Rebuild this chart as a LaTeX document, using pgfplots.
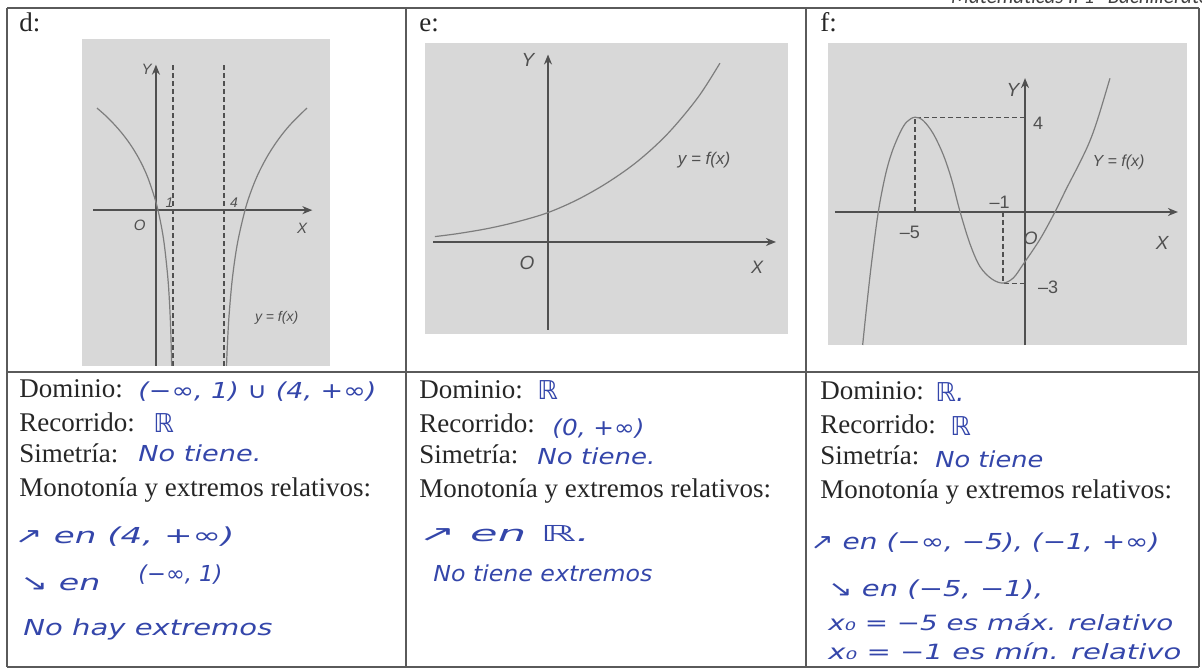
\documentclass[border=0pt]{standalone}
\usepackage{pgfplots}
\pgfplotsset{compat=1.18}
\usepackage{fontspec}
\usepackage{graphicx}
\usetikzlibrary{arrows.meta}
\setmainfont{Liberation Serif}
\newfontfamily\hand{DejaVu Sans}
\newfontfamily\lab{Liberation Sans}
\newfontfamily\head{Carlito}
\definecolor{ink}{RGB}{52,70,170}
\definecolor{paper}{RGB}{216,216,216}
\definecolor{curve}{RGB}{125,125,125}
\definecolor{axisc}{RGB}{80,80,80}
\definecolor{rule}{RGB}{90,90,90}
\newlength\pxu \setlength\pxu{0.5pt}
% handwritten answers: oblique sans in blue ink, stretched to a given width
\newcommand\hw[2]{\resizebox{#1\pxu}{\height}{\hand\itshape #2}}
\newcommand\body{\fontsize{13.5}{16}\selectfont}
\pgfplotsset{panel/.style={scale only axis, hide axis, clip=true, anchor=north west},
  fx/.style={draw=curve, line width=0.6pt, smooth, tension=0.55, no markers}}
\tikzset{txt/.style={anchor=base west, inner sep=0pt, font=\body, text=black!85},
  ans/.style={anchor=base west, inner sep=0pt, text=ink, font=\fontsize{11}{13}\selectfont},
  lbl/.style={inner sep=0pt, text=axisc},
  ax/.style={draw=axisc, line width=0.75pt, -{Stealth[length=5pt,width=4pt]}},
  asym/.style={draw=axisc, line width=0.6pt, dash pattern=on 2.5pt off 1.5pt}}

\begin{document}
\begin{tikzpicture}
\useasboundingbox (0,0) rectangle (601pt,-336pt);

\begin{scope}[x=0.5pt, y=-0.5pt]
% running header
\node[anchor=base east, inner sep=0pt, text=black!75, font=\head\itshape\fontsize{10.5}{12}\selectfont] at (1210,4) {Matemáticas II 1º Bachillerato};

% table rules
\draw[rule, line width=0.9pt] (7,8) -- (1199,8);
\draw[rule, line width=0.9pt] (7,372) -- (1199,372);
\draw[rule, line width=0.9pt] (7,667) -- (1199,667);
\foreach \c in {7,406,806,1199} \draw[rule, line width=0.9pt] (\c,8) -- (\c,667);

% panel backgrounds
\fill[paper] (82,39) rectangle (330,366);
\fill[paper] (425,43) rectangle (788,334);
\fill[paper] (828,43) rectangle (1187,345);

\node[txt] at (19,32) {d:};
\node[txt] at (419,32) {e:};
\node[txt] at (820,32) {f:};

% printed questions
\foreach \c/\d in {19/0,419/1,820/2} {
  \node[txt] at (\c,398+\d) {Dominio:};
  \node[txt] at (\c,432+\d) {Recorrido:};
  \node[txt] at (\c,463+\d) {Simetría:};
  \node[txt] at (\c,496+\d) {Monotonía y extremos relativos:};
}

% handwritten answers, d
\node[ans] at (138,399) {\hw{238}{(−∞, 1) ∪ (4, +∞)}};
\node[ans, font=\fontsize{13}{15}\selectfont] at (153,433) {\hand\itshape ℝ};
\node[ans] at (138,462) {\hw{123}{No tiene.}};
\node[ans] at (14,543) {\hw{220}{↗ en (4, +∞)}};
\node[ans] at (20,590) {\hw{80}{↘ en}};
\node[ans] at (138,581) {\hw{84}{(−∞, 1)}};
\node[ans] at (23,635) {\hw{249}{No hay extremos}};

% handwritten answers, e
\node[ans, font=\fontsize{13}{15}\selectfont] at (537,400) {\hand\itshape ℝ};
\node[ans] at (552,436) {\hw{92}{(0, +∞)}};
\node[ans] at (537,465) {\hw{118}{No tiene.}};
\node[ans] at (418,541) {\hw{172}{↗ en ℝ.}};
\node[ans] at (433,581) {\hw{219}{No tiene extremos}};

% handwritten answers, f
\node[ans, font=\fontsize{13}{15}\selectfont] at (935,402) {\hand\itshape ℝ.};
\node[ans, font=\fontsize{13}{15}\selectfont] at (950,436) {\hand\itshape ℝ};
\node[ans] at (935,467) {\hw{108}{No tiene}};
\node[ans] at (810,549) {\hw{349}{↗ en (−∞, −5), (−1, +∞)}};
\node[ans] at (828,596) {\hw{215}{↘ en (−5, −1),}};
\node[ans, font=\fontsize{10.5}{12}\selectfont] at (828,630) {\hw{345}{x₀ = −5 es máx. relativo}};
\node[ans, font=\fontsize{10.5}{12}\selectfont] at (828,659) {\hw{353}{x₀ = −1 es mín. relativo}};
\end{scope}

% ---------- d: two logarithmic branches, asymptotes x=1 and x=4
\begin{axis}[panel, at={(41pt,-19.5pt)}, width=124pt, height=163.5pt,
  xmin=-4.35, xmax=10.24, ymin=-9.16, ymax=10.06]
\addplot[asym] coordinates {(1,-9.16) (1,8.65)};
\addplot[asym] coordinates {(4,-9.16) (4,8.65)};
\draw[ax] (axis cs:0,-9.16) -- (axis cs:0,8.55);
\draw[ax] (axis cs:-3.7,0) -- (axis cs:9.2,0);
\addplot[fx] coordinates {(-3.47,6.0) (-3,5.59) (-2.5,5.09) (-2,4.52) (-1.5,3.85)
  (-1,3.03) (-0.5,1.97) (0,0.47) (0.3,-0.85) (0.5,-2.09) (0.7,-3.97) (0.8,-5.47)
  (0.87,-7.06) (0.925,-9.1) (0.94,-9.9)};
\addplot[fx] coordinates {(4.13,-9.9) (4.155,-9.1) (4.2,-7.99) (4.3,-6.21) (4.5,-3.98)
  (4.8,-1.92) (5.24,0) (5.6,1.12) (6,2.10) (6.5,3.07) (7,3.87) (7.5,4.55)
  (8,5.13) (8.88,6.0)};
\node[lbl, font=\lab\itshape\fontsize{7.5}{9}\selectfont] at (axis cs:-0.55,8.25) {Y};
\node[lbl, font=\lab\itshape\fontsize{7.5}{9}\selectfont] at (axis cs:-0.95,-0.9) {O};
\node[lbl, font=\lab\itshape\fontsize{7.5}{9}\selectfont] at (axis cs:8.6,-1.05) {X};
\node[lbl, font=\lab\itshape\fontsize{7}{9}\selectfont] at (axis cs:0.8,0.45) {1};
\node[lbl, font=\lab\itshape\fontsize{7}{9}\selectfont] at (axis cs:4.6,0.45) {4};
\node[lbl, font=\lab\itshape\fontsize{7}{9}\selectfont] at (axis cs:7.1,-6.35) {y = f(x)};
\end{axis}

% ---------- e: increasing exponential
\begin{axis}[panel, at={(212.5pt,-21.5pt)}, width=181.5pt, height=145.5pt,
  xmin=-4.1, xmax=8.0, ymin=-3.067, ymax=6.633]
\draw[ax] (axis cs:0,-2.93) -- (axis cs:0,6.25);
\draw[ax] (axis cs:-3.83,0) -- (axis cs:7.6,0);
\addplot[fx] coordinates {(-3.77,0.18) (-3,0.28) (-2,0.45) (-1,0.68) (0,0.98)
  (1,1.42) (2,1.99) (3,2.70) (4,3.62) (5,4.82) (5.73,5.96)};
\node[lbl, font=\lab\itshape\fontsize{9.5}{11}\selectfont] at (axis cs:-0.67,6.07) {Y};
\node[lbl, font=\lab\itshape\fontsize{9.5}{11}\selectfont] at (axis cs:-0.7,-0.7) {O};
\node[lbl, font=\lab\itshape\fontsize{9}{11}\selectfont] at (axis cs:6.97,-0.83) {X};
\node[lbl, font=\lab\itshape\fontsize{8.5}{10}\selectfont] at (axis cs:5.2,2.73) {y = f(x)};
\end{axis}

% ---------- f: relative max (-5,4), relative min (-1,-3)
\begin{axis}[panel, at={(414pt,-21.5pt)}, width=179.5pt, height=151pt,
  xmin=-8.955, xmax=7.364, ymin=-5.612, ymax=7.131]
\addplot[asym] coordinates {(-5,0) (-5,4) (0,4)};
\addplot[asym] coordinates {(-1,0) (-1,-3) (0,-3)};
\draw[ax] (axis cs:0,-5.612) -- (axis cs:0,5.65);
\draw[ax] (axis cs:-8.64,0) -- (axis cs:6.95,0);
\addplot[fx] coordinates {(-7.38,-5.61) (-7.2,-4.0) (-6.97,-2.1) (-6.67,0) (-6.36,1.5)
  (-6.06,2.5) (-5.68,3.35) (-5.38,3.8) (-5,4) (-4.62,3.85) (-4.17,3.3) (-3.71,2.4)
  (-3.33,1.35) (-2.95,0) (-2.5,-1.35) (-2.05,-2.3) (-1.52,-2.82) (-1,-3) (-0.53,-2.78)
  (-0.08,-2.2) (0.68,-1.15) (1.36,0) (1.89,1.0) (2.5,2.1) (2.95,3.0) (3.33,4.0) (3.86,5.64)};
\node[lbl, font=\lab\itshape\fontsize{9.5}{11}\selectfont] at (axis cs:-0.55,5.15) {Y};
\node[lbl, font=\lab\fontsize{9}{11}\selectfont] at (axis cs:0.6,3.76) {4};
\node[lbl, font=\lab\fontsize{9}{11}\selectfont] at (axis cs:-1.15,0.42) {\textendash 1};
\node[lbl, font=\lab\fontsize{9}{11}\selectfont] at (axis cs:-5.23,-0.84) {\textendash 5};
\node[lbl, font=\lab\itshape\fontsize{9}{11}\selectfont] at (axis cs:0.25,-1.1) {O};
\node[lbl, font=\lab\itshape\fontsize{9.5}{11}\selectfont] at (axis cs:6.23,-1.31) {X};
\node[lbl, font=\lab\fontsize{9}{11}\selectfont] at (axis cs:1.05,-3.16) {\textendash 3};
\node[lbl, font=\lab\itshape\fontsize{8}{10}\selectfont] at (axis cs:4.25,2.11) {Y = f(x)};
\end{axis}
\end{tikzpicture}
\end{document}
